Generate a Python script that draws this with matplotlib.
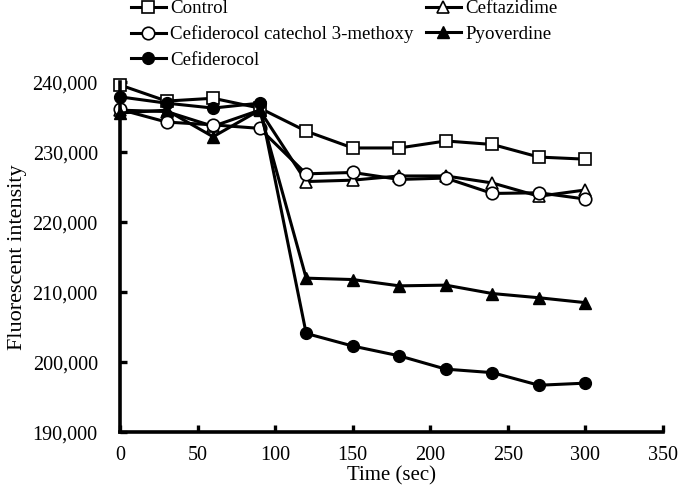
import matplotlib
matplotlib.use("Agg")
import matplotlib.pyplot as plt
from matplotlib.ticker import FuncFormatter

plt.rcParams["font.family"] = ["Liberation Serif", "DejaVu Serif"]

# ---------------------------
# DATA
# ---------------------------
time_sec = [0, 30, 60, 90, 120, 150, 180, 210, 240, 270, 300]

control = [239600, 237300, 237700, 236300, 233000, 230600, 230600, 231600, 231100, 229300, 229000]
ceftazidime = [236000, 235800, 233700, 236000, 225800, 226000, 226600, 226600, 225600, 223700, 224600]
cef_3methoxy = [236100, 234300, 233900, 233400, 226900, 227100, 226100, 226300, 224100, 224200, 223300]
pyoverdine = [235600, 236000, 232200, 236000, 212000, 211800, 210900, 211000, 209800, 209200, 208500]
cefiderocol = [237900, 237000, 236300, 237000, 204100, 202300, 200900, 199000, 198500, 196700, 197000]

x_ticks = [0, 50, 100, 150, 200, 250, 300, 350]
y_ticks = [190000, 200000, 210000, 220000, 230000, 240000]

fig = plt.figure(figsize=(6.8, 4.95), dpi=100)
ax = fig.add_axes([0.1765, 0.127, 0.7985, 0.707])

lw = 2.2
ms = 8.5

# ---------------------------
# LINES
# ---------------------------
l_control, = ax.plot(time_sec, control, "-s", color="black", lw=lw, ms=ms,
                     mfc="white", mec="black", mew=1.2, clip_on=False, label="Control")
l_ceftaz, = ax.plot(time_sec, ceftazidime, "-^", color="black", lw=lw, ms=ms,
                    mfc="white", mec="black", mew=1.2, clip_on=False, label="Ceftazidime")
l_meth, = ax.plot(time_sec, cef_3methoxy, "-o", color="black", lw=lw, ms=ms + 0.5,
                  mfc="white", mec="black", mew=1.2, clip_on=False,
                  label="Cefiderocol catechol 3-methoxy")
l_pyo, = ax.plot(time_sec, pyoverdine, "-^", color="black", lw=lw, ms=ms,
                 mfc="black", mec="black", clip_on=False, label="Pyoverdine")
l_cefid, = ax.plot(time_sec, cefiderocol, "-o", color="black", lw=lw, ms=ms,
                   mfc="black", mec="black", clip_on=False, label="Cefiderocol")

# ---------------------------
# AXES
# ---------------------------
ax.set_xlim(0, 350)
ax.set_ylim(190000, 240000)
ax.set_xticks(x_ticks)
ax.set_yticks(y_ticks)
ax.yaxis.set_major_formatter(FuncFormatter(lambda v, p: f"{int(v):,}"))
ax.tick_params(direction="in", length=5, width=2.4, labelsize=14.5)
ax.tick_params(axis="y", pad=16)
ax.tick_params(axis="x", pad=10)

for side in ["top", "right"]:
    ax.spines[side].set_visible(False)
for side in ["left", "bottom"]:
    ax.spines[side].set_linewidth(2.6)

ax.set_xlabel("Time (sec)", fontsize=15, labelpad=1)
ax.set_ylabel("Fluorescent intensity", fontsize=16, labelpad=4)

# ---------------------------
# LEGEND
# ---------------------------
handles = [l_control, l_meth, l_cefid, l_ceftaz, l_pyo]
fig.legend(handles=handles, labels=[h.get_label() for h in handles],
           loc="upper left", bbox_to_anchor=(0.192, 1.0), ncol=2,
           frameon=False, fontsize=13.6, handlelength=1.85, handletextpad=0.25,
           columnspacing=0.65, labelspacing=0.43, borderaxespad=0, borderpad=0)

fig.savefig("out.png", dpi=100)
